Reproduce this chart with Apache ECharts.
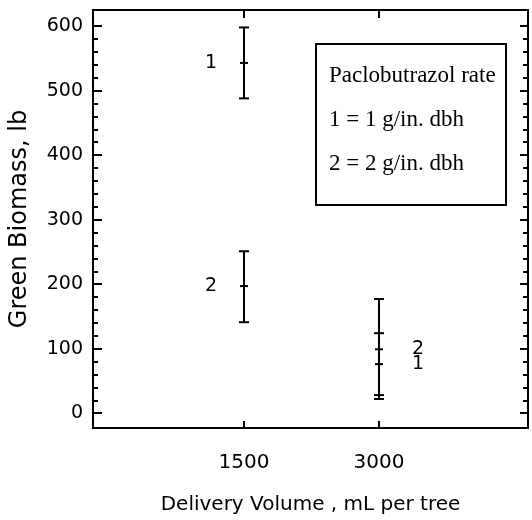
<!DOCTYPE html>
<html>
<head>
<meta charset="utf-8">
<script src="https://cdn.jsdelivr.net/npm/echarts@6/dist/echarts.min.js"></script>
<style>
  html, body { margin: 0; padding: 0; background: #fff; }
  #chart { width: 532px; height: 520px; }
</style>
</head>
<body>
<div id="chart"></div>
<script>
// delivery volumes (mL per tree)
var volumes = [1500, 3000];
// rate 1 = 1 g/in. dbh
var rate1Mean = [543, 76];
var rate1Low = [488, 28];
var rate1High = [598, 124];
// rate 2 = 2 g/in. dbh
var rate2Mean = [197, 99];
var rate2Low = [141, 22];
var rate2High = [251, 177];

var xTicks = [1500, 3000];
var yTicks = [0, 100, 200, 300, 400, 500, 600];
var yMinorTicks = [0, 20, 40, 60, 80, 100, 120, 140, 160, 180, 200, 220, 240, 260, 280, 300,
  320, 340, 360, 380, 400, 420, 440, 460, 480, 500, 520, 540, 560, 580, 600];

var sans = '"DejaVu Sans", Arial, sans-serif';
var serif = '"Liberation Serif", "Times New Roman", serif';

var chartDom = document.getElementById('chart');
var myChart = echarts.init(chartDom);

function rows(mean, low, high) {
  return volumes.map(function (v, i) { return [v, mean[i], low[i], high[i]]; });
}

function makeRender(name) {
  return function (params, api) {
    var x = api.value(0);
    var top = api.coord([x, api.value(3)]);
    var bot = api.coord([x, api.value(2)]);
    var mid = api.coord([x, api.value(1)]);
    var st = { stroke: '#000', lineWidth: 2 };
    var cap = 5, tick = 4;
    // label on the left for the first volume, right for the second
    var dx = x < 2000 ? -33 : 39;
    return {
      type: 'group',
      children: [
        { type: 'line', shape: { x1: top[0], y1: top[1], x2: bot[0], y2: bot[1] }, style: st },
        { type: 'line', shape: { x1: top[0] - cap, y1: top[1], x2: top[0] + cap, y2: top[1] }, style: st },
        { type: 'line', shape: { x1: bot[0] - cap, y1: bot[1], x2: bot[0] + cap, y2: bot[1] }, style: st },
        { type: 'line', shape: { x1: mid[0] - tick, y1: mid[1], x2: mid[0] + tick, y2: mid[1] }, style: st },
        {
          type: 'text',
          style: {
            x: mid[0] + dx, y: mid[1], text: name,
            font: '19px ' + sans, fill: '#000',
            align: 'center', verticalAlign: 'middle'
          }
        }
      ]
    };
  };
}

var yBase = {
  type: 'value', min: -23, max: 625,
  axisLine: { show: false, onZero: false },
  splitLine: { show: false }
};

var plainNum = function (v) { return String(v); };

var option = {
  animation: false,
  backgroundColor: '#fff',
  grid: { left: 93, top: 10, width: 435, height: 418, show: true, borderColor: '#000', borderWidth: 2, backgroundColor: 'transparent' },
  xAxis: [
    {
      type: 'value', min: -178, max: 4656, position: 'bottom',
      name: 'Delivery Volume , mL per tree', nameLocation: 'middle', nameGap: 67,
      nameTextStyle: { fontFamily: sans, fontSize: 20, color: '#000' },
      axisLine: { show: false, onZero: false },
      splitLine: { show: false },
      axisTick: { inside: true, length: 7, customValues: xTicks, lineStyle: { color: '#000', width: 2 } },
      axisLabel: { customValues: xTicks, formatter: plainNum, margin: 25, fontFamily: sans, fontSize: 20, color: '#000' }
    },
    {
      type: 'value', min: -178, max: 4656, position: 'top',
      axisLine: { show: false, onZero: false },
      splitLine: { show: false },
      axisTick: { inside: true, length: 8, customValues: xTicks, lineStyle: { color: '#000', width: 2 } },
      axisLabel: { show: false }
    }
  ],
  yAxis: [
    Object.assign({}, yBase, {
      position: 'left',
      name: 'Green Biomass, lb', nameLocation: 'middle', nameGap: 61,
      nameTextStyle: { fontFamily: sans, fontSize: 24, color: '#000' },
      axisTick: { inside: true, length: 9, customValues: yTicks, lineStyle: { color: '#000', width: 2 } },
      axisLabel: { customValues: yTicks, formatter: plainNum, margin: 10, fontFamily: sans, fontSize: 19, color: '#000' }
    }),
    Object.assign({}, yBase, {
      position: 'left',
      axisTick: { inside: true, length: 5, customValues: yMinorTicks, lineStyle: { color: '#000', width: 2 } },
      axisLabel: { show: false }
    }),
    Object.assign({}, yBase, {
      position: 'right',
      axisTick: { inside: true, length: 8, customValues: yTicks, lineStyle: { color: '#000', width: 2 } },
      axisLabel: { show: false }
    }),
    Object.assign({}, yBase, {
      position: 'right',
      axisTick: { inside: true, length: 5, customValues: yMinorTicks, lineStyle: { color: '#000', width: 2 } },
      axisLabel: { show: false }
    })
  ],
  graphic: [
    {
      type: 'rect', left: 315, top: 43,
      shape: { width: 190, height: 161 },
      style: { fill: '#fff', stroke: '#000', lineWidth: 2 }
    },
    { type: 'text', left: 329, top: 64, style: { text: 'Paclobutrazol rate', font: '23px ' + serif, fill: '#000' } },
    { type: 'text', left: 329, top: 108, style: { text: '1 = 1 g/in. dbh', font: '23px ' + serif, fill: '#000' } },
    { type: 'text', left: 329, top: 152, style: { text: '2 = 2 g/in. dbh', font: '23px ' + serif, fill: '#000' } }
  ],
  series: [
    { name: '1', type: 'custom', renderItem: makeRender('1'), data: rows(rate1Mean, rate1Low, rate1High), z: 3 },
    { name: '2', type: 'custom', renderItem: makeRender('2'), data: rows(rate2Mean, rate2Low, rate2High), z: 3 }
  ]
};

option && myChart.setOption(option);
</script>
</body>
</html>
